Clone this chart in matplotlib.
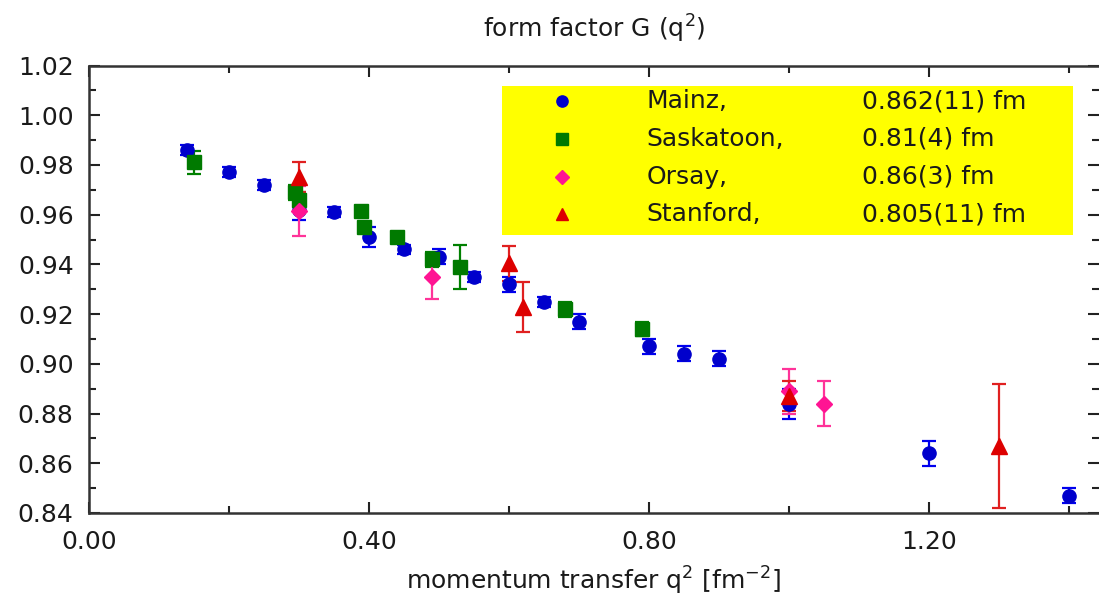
import matplotlib
matplotlib.use("Agg")
import matplotlib.pyplot as plt
from matplotlib.ticker import MultipleLocator, FixedLocator, FixedFormatter

plt.rcParams['font.family'] = ['DejaVu Sans']
plt.rcParams['mathtext.default'] = 'regular'

# data
mainz_q2 = [0.14, 0.20, 0.25, 0.30, 0.35, 0.40, 0.45, 0.50, 0.55, 0.60, 0.65, 0.70,
            0.80, 0.85, 0.90, 1.00, 1.20, 1.40]
mainz_g = [0.986, 0.977, 0.972, 0.962, 0.961, 0.951, 0.946, 0.943, 0.935, 0.932, 0.925, 0.917,
           0.907, 0.904, 0.902, 0.884, 0.864, 0.847]
mainz_err = [0.002, 0.002, 0.002, 0.004, 0.002, 0.004, 0.002, 0.003, 0.002, 0.003, 0.002, 0.003,
             0.003, 0.003, 0.003, 0.006, 0.005, 0.003]

sask_q2 = [0.15, 0.295, 0.30, 0.389, 0.393, 0.44, 0.49, 0.53, 0.68, 0.79]
sask_g = [0.981, 0.969, 0.966, 0.9615, 0.955, 0.951, 0.942, 0.939, 0.922, 0.914]
sask_err = [0.0045, 0.003, 0.003, 0.002, 0.002, 0.002, 0.003, 0.009, 0.003, 0.003]

orsay_q2 = [0.30, 0.49, 1.00, 1.05]
orsay_g = [0.9615, 0.935, 0.889, 0.884]
orsay_err = [0.010, 0.009, 0.009, 0.009]

stan_q2 = [0.30, 0.60, 0.62, 1.00, 1.30]
stan_g = [0.975, 0.9405, 0.923, 0.887, 0.867]
stan_err = [0.006, 0.007, 0.010, 0.006, 0.025]

labels = ["Mainz,", "Saskatoon,", "Orsay,", "Stanford,"]
radii = ["0.862(11) fm", "0.81(4) fm", "0.86(3) fm", "0.805(11) fm"]

fig = plt.figure(figsize=(10.99, 6.08), dpi=100)
ax = fig.add_axes([89 / 1099, 1 - 513 / 608, 1 - 89 / 1099, (513 - 65.5) / 608])

styles = [
    (mainz_q2, mainz_g, mainz_err, 'o', '#0000cc', '#0000ee', 9.5),
    (sask_q2, sask_g, sask_err, 's', '#007a00', '#008000', 10),
    (orsay_q2, orsay_g, orsay_err, 'D', '#ff1493', '#ff3399', 8.5),
    (stan_q2, stan_g, stan_err, '^', '#dd0000', '#e02020', 11),
]
for x, y, e, m, c, ec, ms in styles:
    ax.errorbar(x, y, yerr=e, fmt=m, color=c, ecolor=ec, ms=ms, mec=c,
                elinewidth=1.6, capsize=5, capthick=1.6)

ax.set_xlim(0, 1.443)
ax.set_ylim(0.84, 1.02)

ax.xaxis.set_major_locator(FixedLocator([0.0, 0.4, 0.8, 1.2]))
ax.xaxis.set_major_formatter(FixedFormatter(["0.00", "0.40", "0.80", "1.20"]))
ax.xaxis.set_minor_locator(MultipleLocator(0.2))
ax.yaxis.set_major_locator(MultipleLocator(0.02))
ax.yaxis.set_minor_locator(MultipleLocator(0.01))
ax.yaxis.set_major_formatter(plt.FormatStrFormatter('%.2f'))
ax.tick_params(which='both', direction='in', top=True, right=True, color='#222222',
               labelsize=18, labelcolor='#1a1a1a', width=1.5)
ax.tick_params(which='major', length=8)
ax.tick_params(which='minor', length=5)
ax.tick_params(axis='x', which='both', pad=12)
ax.tick_params(axis='y', which='both', pad=11)
for s in ax.spines.values():
    s.set_linewidth(1.8)
    s.set_color('#333333')
ax.spines['right'].set_visible(False)

ax.set_title("form factor G (q$^2$)", fontsize=18, pad=20, color='#1a1a1a')
ax.set_xlabel("momentum transfer q$^2$ [fm$^{-2}$]", fontsize=18, labelpad=8, color='#1a1a1a')

# yellow box legend
ax.add_patch(plt.Rectangle((0.59, 0.9518), 0.816, 0.0598,
                           facecolor='#ffff00', edgecolor='none', zorder=1))
for i, (st, lab, r) in enumerate(zip(styles, labels, radii)):
    yy = 1.0056 - i * 0.01515
    ax.plot(0.676, yy, st[3], color=st[4], ms=st[6] * 0.85, zorder=3)
    ax.text(0.797, yy, lab, fontsize=18, va='center', zorder=3, color='#1a1a1a')
    ax.text(1.104, yy, r, fontsize=18, va='center', zorder=3, color='#1a1a1a')

fig.savefig("out.png", dpi=100)
